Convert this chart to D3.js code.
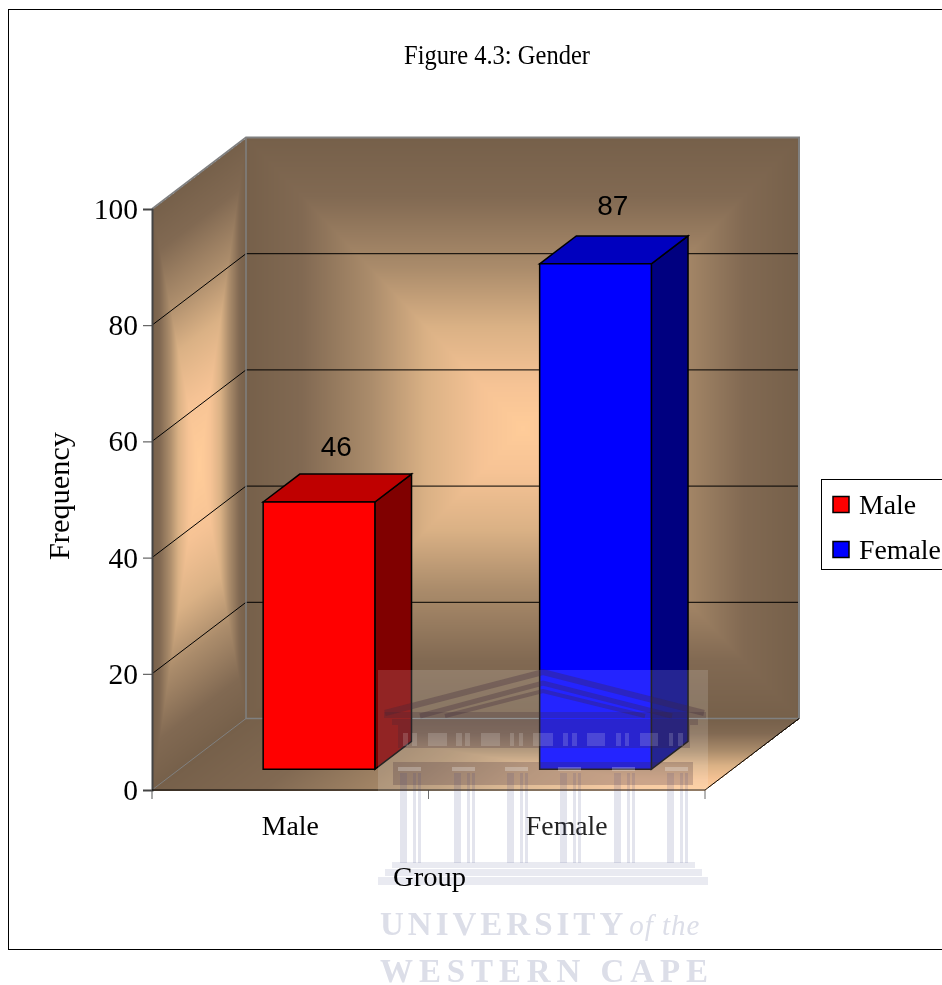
<!DOCTYPE html>
<html><head><meta charset="utf-8">
<script src="https://cdnjs.cloudflare.com/ajax/libs/d3/7.8.5/d3.min.js"></script>
<style>
html,body{margin:0;padding:0;background:#fff;overflow:hidden}
#wrap{position:relative;width:942px;height:985px;overflow:hidden}
canvas,svg{position:absolute;left:0;top:0}
text{font-family:"Liberation Serif",serif;fill:#000}
</style></head><body><div id="wrap"></div>
<script>
const categories=["Male","Female"];
const frequency=[46,87];
const barFront=["#ff0000","#0000ff"];
const barTop=["#bf0000","#0000bf"];
const barSide=["#800000","#000080"];
const yTicks=[0,20,40,60,80,100];
const titleText="Figure 4.3: Gender";
const yTitle="Frequency";
const xTitle="Group";
const W=942,H=985;
const depth={dx:94,dy:-71.5};
const near=.29,far=.68;

const x=d3.scaleBand().domain(categories).range([152,705]);
const y=d3.scaleLinear().domain([0,100]).range([790,209]);
const P=(px,v,d)=>[px+depth.dx*d,y(v)+depth.dy*d];

const wrap=d3.select("#wrap");
/* ---- walls: rectangular path gradient ---- */
const cv=wrap.append("canvas").attr("width",W).attr("height",H).node();
const ctx=cv.getContext("2d");
const img=ctx.createImageData(W,H);
const ramp=d3.scaleLinear()
 .domain([0,.15,.35,.55,.8,1])
 .range(["#ffcc99","#f6c395","#dab185","#ab8c6b","#816952","#76604a"])
 .interpolate(d3.interpolateRgb);
const lut=d3.range(0,1001).map(i=>d3.rgb(ramp(i/1000)));
function put(px,py,t){const c=lut[Math.round(Math.max(0,Math.min(1,t))*1000)],k=(py*W+px)*4;
 img.data[k]=c.r;img.data[k+1]=c.g;img.data[k+2]=c.b;img.data[k+3]=255;}
const x0=152,x1=705,yB=y(0),yT=y(100);
for(let py=Math.floor(yT+depth.dy);py<=yB;py++)for(let px=x0;px<=x1+depth.dx;px++){
 const backFloorY=yB+depth.dy;
 if(px>=x0+depth.dx&&py<=backFloorY){
  // back wall
  const u=(px-(x0+depth.dx))/(x1-x0),v=(py-(yT+depth.dy))/(yB-yT);
  put(px,py,Math.max(Math.abs(u-.5),Math.abs(v-.5))*2);
  continue;
 }
 if(px<x0+depth.dx){
  // side wall
  const u=(px-x0)/depth.dx,top=yT+depth.dy*u,bot=yB+depth.dy*u;
  if(py>=top&&py<=bot){
   const v=(py-top)/(bot-top);
   put(px,py,Math.pow(Math.max(Math.abs(u-.5),Math.abs(v-.5))*2,1.3));
   continue;
  }
 }
 if(py>backFloorY){
  // floor
  const v=(py-backFloorY)/(-depth.dy),sx=x0+depth.dx*(1-v),u=(px-sx)/(x1-x0);
  if(u>=0&&u<=1)put(px,py,Math.max(1-u,1-v));
 }
}
ctx.putImageData(img,0,0);

const svg=wrap.append("svg").attr("width",W).attr("height",H);
const line=d3.line();
/* frame */
svg.append("rect").attr("x",8.5).attr("y",9.5).attr("width",W+20).attr("height",940).attr("fill","none").attr("stroke","#000");

/* gridlines */
const inner=yTicks.slice(1,-1);
const g=svg.append("g").attr("fill","none").attr("stroke","#000").attr("stroke-width",1);
g.selectAll(".grid").data(inner).join("path").attr("class","grid")
 .attr("d",v=>line([P(x0,v,0),P(x0,v,1),P(x1,v,1)]));

/* wall edges */
const e=svg.append("g").attr("fill","none").attr("stroke","#808080");
e.append("path").attr("stroke-width",2).attr("d",line([P(x0,100,0),P(x0,100,1),P(x1,100,1),P(x1,0,1)]));
e.append("path").attr("stroke-width",1.5).attr("d",line([P(x0,100,1),P(x0,0,1),P(x1,0,1)]));
e.append("path").attr("stroke-width",1).attr("d",line([P(x0,0,0),P(x0,0,1)]));
svg.append("path").attr("fill","none").attr("stroke","#000").attr("d",line([P(x1,0,0),P(x1,0,1)]));

/* axes */
const yAxis=svg.append("g").attr("transform",`translate(${x0},0)`)
 .call(d3.axisLeft(y).tickValues(yTicks).tickSize(9).tickPadding(5));
yAxis.select(".domain").attr("stroke","#444").attr("stroke-width",2);
yAxis.selectAll("line").attr("stroke","#444");
yAxis.selectAll("text").style("font-family",'"Liberation Serif",serif').style("font-size","29.5px").attr("fill","#000");

const xAxisG=svg.append("g").attr("transform",`translate(0,${yB})`)
 .call(d3.axisBottom(x).tickSize(0).tickPadding(0));
xAxisG.select(".domain").remove();
xAxisG.selectAll("text").style("font-family",'"Liberation Serif",serif').style("font-size","27.8px").attr("fill","#000").attr("dy",0).attr("y",45);
const seps=[x0,x(categories[1]),x1];
svg.append("g").selectAll("line").data(seps).join("line")
 .attr("x1",d=>d).attr("x2",d=>d).attr("y1",yB).attr("y2",yB+9).attr("stroke","#555");
svg.append("line").attr("x1",x0).attr("x2",x1).attr("y1",yB).attr("y2",yB).attr("stroke","#000");

/* bars */
const bw=x.bandwidth()*.404;
const data=categories.map((c,i)=>({c,v:frequency[i],i,l:x(c)+x.bandwidth()/2-bw/2+1.5,r:x(c)+x.bandwidth()/2+bw/2+1.5}));
const bars=svg.append("g").selectAll("g").data(data).join("g")
 .attr("stroke","#000").attr("stroke-width",1.5).attr("stroke-linejoin","miter");
bars.append("path").attr("fill",d=>barSide[d.i]).attr("d",d=>line([P(d.r,d.v,near),P(d.r,d.v,far),P(d.r,0,far),P(d.r,0,near)])+"Z");
bars.append("path").attr("fill",d=>barTop[d.i]).attr("d",d=>line([P(d.l,d.v,near),P(d.l,d.v,far),P(d.r,d.v,far),P(d.r,d.v,near)])+"Z");
bars.append("path").attr("fill",d=>barFront[d.i]).attr("d",d=>line([P(d.l,d.v,near),P(d.r,d.v,near),P(d.r,0,near),P(d.l,0,near)])+"Z");
const labelLift=[46,49];
svg.append("g").selectAll("text").data(data).join("text")
 .attr("x",d=>(d.l+d.r)/2+depth.dx*(near+far)/2-1)
 .attr("y",d=>P(d.l,d.v,near)[1]-labelLift[d.i])
 .attr("text-anchor","middle").style("font-family",'"Liberation Sans",sans-serif').style("font-size","28px")
 .text(d=>d.v);

/* watermark */
const wm=svg.append("g");
wm.append("rect").attr("x",378).attr("y",670).attr("width",330).attr("height",215).attr("fill","#fff").attr("opacity",.14);
const dark="#3a2538", pale="#374383";
const roof=wm.append("g").attr("fill","none").attr("stroke",dark).attr("stroke-opacity",.3);
[[[385,713],[543,672],[704,713],6],[[420,716],[543,683],[672,716],5],[[445,716],[543,691],[645,716],4]].forEach(r=>
 roof.append("path").attr("stroke-width",r[3]).attr("d",line(r.slice(0,3))));
const darkRects=[[384,712,322,6],[392,719,306,6],[398,725,292,23],[393,762,300,23]];
wm.selectAll(".dk").data(darkRects).join("rect").attr("class","dk")
 .attr("x",d=>d[0]).attr("y",d=>d[1]).attr("width",d=>d[2]).attr("height",d=>d[3])
 .attr("fill",dark).attr("opacity",.24);
const frieze=[[403,5],[412,5],[428,19],[456,6],[465,5],[481,19],[510,4],[519,4],[533,20],[563,5],[572,5],[587,18],[616,5],[625,4],[640,18],[669,4],[678,5]];
wm.selectAll(".fr").data(frieze).join("rect").attr("class","fr")
 .attr("x",d=>d[0]).attr("y",733).attr("width",d=>d[1]).attr("height",13).attr("fill","#fff").attr("opacity",.16);
const capitals=[398,452,505,558,612,665];
wm.selectAll(".cap").data(capitals).join("rect").attr("class","cap")
 .attr("x",d=>d).attr("y",767).attr("width",23).attr("height",4).attr("fill","#fff").attr("opacity",.25);
capitals.forEach(c=>{[[2,7],[15,3],[20,3]].forEach(s=>{
 wm.append("rect").attr("x",c+s[0]).attr("y",773).attr("width",s[1]).attr("height",90).attr("fill",pale).attr("opacity",.14);
});});
[[392,862,303,6],[385,869,317,7],[378,877,330,8]].forEach(s=>
 wm.append("rect").attr("x",s[0]).attr("y",s[1]).attr("width",s[2]).attr("height",s[3]).attr("fill",pale).attr("opacity",.11));
const wt=wm.append("text").attr("x",380).attr("y",935).style("font-size","33px").style("font-weight","bold").style("fill","#dcdee8");
wt.append("tspan").style("letter-spacing","4px").text("UNIVERSITY");
wt.append("tspan").attr("dx",2).style("font-style","italic").style("font-weight","normal").style("font-size","29px").style("letter-spacing","1px").text("of the");
wm.append("text").attr("x",380).attr("y",982).attr("textLength",328).style("font-size","33px").style("font-weight","bold").style("fill","#dcdee8").text("WESTERN CAPE");

/* titles */
svg.append("text").attr("x",404).attr("y",64).attr("textLength",186).attr("lengthAdjust","spacingAndGlyphs").style("font-size","28px").text(titleText);
svg.append("text").attr("transform","translate(69,560) rotate(-90)").attr("textLength",128).attr("lengthAdjust","spacingAndGlyphs").style("font-size","29px").text(yTitle);
svg.append("text").attr("x",393).attr("y",886).attr("textLength",73).attr("lengthAdjust","spacingAndGlyphs").style("font-size","27.5px").text(xTitle);

/* legend */
const leg=svg.append("g");
leg.append("rect").attr("x",821.5).attr("y",479.5).attr("width",140).attr("height",90).attr("fill","#fff").attr("stroke","#000");
const ly=d3.scalePoint().domain(categories).range([504.5,549.5]);
leg.selectAll(".sw").data(data).join("rect").attr("class","sw")
 .attr("x",833).attr("y",d=>ly(d.c)-8).attr("width",16).attr("height",16)
 .attr("fill",d=>barFront[d.i]).attr("stroke","#000").attr("stroke-width",1.5);
leg.selectAll(".lt").data(data).join("text").attr("class","lt")
 .attr("x",859).attr("y",d=>ly(d.c)+9).style("font-size","27.8px").text(d=>d.c);
</script></body></html>
